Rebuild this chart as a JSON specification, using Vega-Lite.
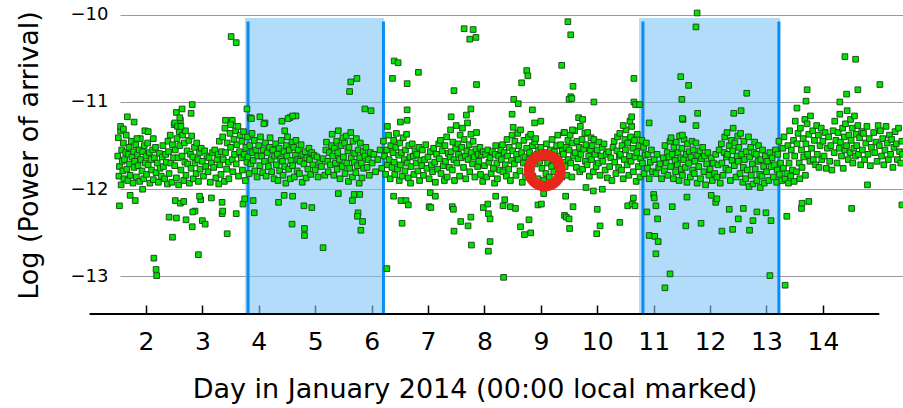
{
"$schema":"https://vega.github.io/schema/vega-lite/v6.json",
"width":783,"height":308,
"autosize":{"type":"none"},
"padding":{"left":120,"top":6,"right":0,"bottom":94},
"config":{"view":{"stroke":null},"font":"DejaVu Sans"},
"datasets":{
"bands":[{"a":3.755,"b":6.22},{"a":10.74,"b":13.24}],
"edges":[{"e":3.81},{"e":6.21},{"e":10.81},{"e":13.22}],
"axisline":[{"a":1.0,"b":15.0}],
"ring":[{"d":9.07,"p":-11.785}],
"pts":[
{"d":1.50,"p":-11.62},{"d":1.51,"p":-11.41},{"d":1.52,"p":-11.85},{"d":1.53,"p":-11.74},{"d":1.55,"p":-11.33},{"d":1.56,"p":-11.95},{"d":1.57,"p":-11.55},{"d":1.58,"p":-11.68},{"d":1.59,"p":-11.79},
{"d":1.60,"p":-11.47},{"d":1.61,"p":-11.88},{"d":1.62,"p":-11.66},{"d":1.64,"p":-11.58},{"d":1.65,"p":-11.38},{"d":1.66,"p":-11.77},{"d":1.68,"p":-11.9},{"d":1.69,"p":-11.6},
{"d":1.70,"p":-11.52},{"d":1.71,"p":-11.71},{"d":1.72,"p":-11.84},{"d":1.74,"p":-11.45},{"d":1.75,"p":-11.63},{"d":1.77,"p":-11.93},{"d":1.78,"p":-11.57},{"d":1.79,"p":-11.75},
{"d":1.80,"p":-11.68},{"d":1.82,"p":-11.49},{"d":1.83,"p":-11.86},{"d":1.85,"p":-11.6},{"d":1.86,"p":-11.73},{"d":1.88,"p":-11.55},{"d":1.89,"p":-11.91},
{"d":1.90,"p":-11.42},{"d":1.91,"p":-11.66},{"d":1.93,"p":-11.79},{"d":1.94,"p":-11.57},{"d":1.96,"p":-11.88},{"d":1.97,"p":-11.5},{"d":1.99,"p":-11.7},
{"d":2.00,"p":-11.62},{"d":2.01,"p":-11.83},{"d":2.03,"p":-11.47},{"d":2.04,"p":-11.72},{"d":2.06,"p":-11.58},{"d":2.07,"p":-11.93},{"d":2.09,"p":-11.66},
{"d":2.10,"p":-11.78},{"d":2.12,"p":-11.55},{"d":2.13,"p":-11.89},{"d":2.15,"p":-11.64},{"d":2.17,"p":-11.52},{"d":2.18,"p":-11.81},
{"d":2.20,"p":-11.7},{"d":2.22,"p":-11.92},{"d":2.24,"p":-11.59},{"d":2.25,"p":-11.76},{"d":2.27,"p":-11.85},{"d":2.29,"p":-11.63},
{"d":2.30,"p":-11.5},{"d":2.31,"p":-11.74},{"d":2.33,"p":-11.88},{"d":2.35,"p":-11.6},{"d":2.36,"p":-11.69},{"d":2.38,"p":-11.94},{"d":2.39,"p":-11.45},
{"d":2.40,"p":-11.57},{"d":2.41,"p":-11.82},{"d":2.43,"p":-11.38},{"d":2.44,"p":-11.7},{"d":2.46,"p":-11.92},{"d":2.47,"p":-11.49},{"d":2.49,"p":-11.64},
{"d":2.50,"p":-11.26},{"d":2.51,"p":-11.73},{"d":2.52,"p":-11.55},{"d":2.54,"p":-11.87},{"d":2.55,"p":-11.42},{"d":2.57,"p":-11.64},{"d":2.58,"p":-11.95},{"d":2.59,"p":-11.34},
{"d":2.60,"p":-11.5},{"d":2.61,"p":-11.21},{"d":2.62,"p":-11.78},{"d":2.64,"p":-11.62},{"d":2.65,"p":-11.38},{"d":2.67,"p":-11.9},{"d":2.68,"p":-11.47},{"d":2.69,"p":-11.69},
{"d":2.70,"p":-11.33},{"d":2.71,"p":-11.84},{"d":2.73,"p":-11.56},{"d":2.74,"p":-11.71},{"d":2.76,"p":-11.44},{"d":2.77,"p":-11.93},{"d":2.79,"p":-11.6},
{"d":2.80,"p":-11.76},{"d":2.81,"p":-11.39},{"d":2.83,"p":-11.63},{"d":2.84,"p":-11.88},{"d":2.86,"p":-11.52},{"d":2.87,"p":-11.7},{"d":2.89,"p":-11.82},
{"d":2.90,"p":-11.47},{"d":2.92,"p":-11.66},{"d":2.93,"p":-11.91},{"d":2.95,"p":-11.58},{"d":2.96,"p":-11.77},{"d":2.98,"p":-11.53},
{"d":3.00,"p":-11.68},{"d":3.02,"p":-11.85},{"d":3.04,"p":-11.56},{"d":3.06,"p":-11.74},{"d":3.08,"p":-11.62},
{"d":3.10,"p":-11.8},{"d":3.12,"p":-11.64},{"d":3.14,"p":-11.92},{"d":3.16,"p":-11.7},{"d":3.18,"p":-11.58},
{"d":3.20,"p":-11.75},{"d":3.22,"p":-11.55},{"d":3.24,"p":-11.87},{"d":3.26,"p":-11.66},{"d":3.28,"p":-11.6},{"d":3.29,"p":-11.94},
{"d":3.30,"p":-11.45},{"d":3.31,"p":-11.72},{"d":3.33,"p":-11.83},{"d":3.34,"p":-11.57},{"d":3.36,"p":-11.4},{"d":3.37,"p":-11.66},{"d":3.39,"p":-11.91},
{"d":3.40,"p":-11.3},{"d":3.41,"p":-11.58},{"d":3.43,"p":-11.77},{"d":3.44,"p":-11.47},{"d":3.46,"p":-11.69},{"d":3.47,"p":-11.88},{"d":3.49,"p":-11.36},
{"d":3.50,"p":-11.52},{"d":3.51,"p":-11.24},{"d":3.53,"p":-11.66},{"d":3.54,"p":-11.8},{"d":3.56,"p":-11.43},{"d":3.57,"p":-11.6},{"d":3.59,"p":-11.33},
{"d":3.60,"p":-11.71},{"d":3.61,"p":-11.49},{"d":3.63,"p":-11.28},{"d":3.64,"p":-11.85},{"d":3.66,"p":-11.57},{"d":3.67,"p":-11.38},{"d":3.69,"p":-11.64},
{"d":3.70,"p":-11.45},{"d":3.71,"p":-11.78},{"d":3.73,"p":-11.34},{"d":3.74,"p":-11.6},{"d":3.76,"p":-11.9},{"d":3.77,"p":-11.52},{"d":3.79,"p":-11.69},
{"d":3.80,"p":-11.4},{"d":3.81,"p":-11.63},{"d":3.83,"p":-11.82},{"d":3.84,"p":-11.5},{"d":3.86,"p":-11.71},{"d":3.88,"p":-11.36},{"d":3.89,"p":-11.58},
{"d":3.90,"p":-11.67},{"d":3.92,"p":-11.44},{"d":3.93,"p":-11.79},{"d":3.95,"p":-11.55},{"d":3.97,"p":-11.86},{"d":3.98,"p":-11.62},
{"d":4.00,"p":-11.5},{"d":4.02,"p":-11.73},{"d":4.03,"p":-11.4},{"d":4.05,"p":-11.62},{"d":4.07,"p":-11.81},{"d":4.08,"p":-11.55},
{"d":4.10,"p":-11.68},{"d":4.12,"p":-11.47},{"d":4.13,"p":-11.85},{"d":4.15,"p":-11.58},{"d":4.17,"p":-11.74},{"d":4.19,"p":-11.52},
{"d":4.20,"p":-11.41},{"d":4.22,"p":-11.66},{"d":4.23,"p":-11.8},{"d":4.25,"p":-11.55},{"d":4.27,"p":-11.88},{"d":4.28,"p":-11.62},
{"d":4.30,"p":-11.48},{"d":4.31,"p":-11.72},{"d":4.33,"p":-11.6},{"d":4.34,"p":-11.9},{"d":4.36,"p":-11.53},{"d":4.37,"p":-11.79},{"d":4.39,"p":-11.65},
{"d":4.40,"p":-11.44},{"d":4.42,"p":-11.68},{"d":4.43,"p":-11.84},{"d":4.45,"p":-11.57},{"d":4.46,"p":-11.74},{"d":4.48,"p":-11.93},{"d":4.49,"p":-11.5},
{"d":4.50,"p":-11.62},{"d":4.51,"p":-11.4},{"d":4.53,"p":-11.77},{"d":4.54,"p":-11.55},{"d":4.56,"p":-11.88},{"d":4.57,"p":-11.67},{"d":4.59,"p":-11.46},
{"d":4.60,"p":-11.73},{"d":4.62,"p":-11.52},{"d":4.63,"p":-11.86},{"d":4.65,"p":-11.61},{"d":4.66,"p":-11.44},{"d":4.68,"p":-11.79},{"d":4.69,"p":-11.66},
{"d":4.70,"p":-11.55},{"d":4.72,"p":-11.82},{"d":4.73,"p":-11.68},{"d":4.75,"p":-11.49},{"d":4.77,"p":-11.92},{"d":4.78,"p":-11.6},
{"d":4.80,"p":-11.71},{"d":4.82,"p":-11.57},{"d":4.84,"p":-11.87},{"d":4.85,"p":-11.64},{"d":4.87,"p":-11.77},{"d":4.89,"p":-11.53},
{"d":4.90,"p":-11.66},{"d":4.92,"p":-11.83},{"d":4.94,"p":-11.58},{"d":4.96,"p":-11.72},{"d":4.98,"p":-11.61},
{"d":5.00,"p":-11.78},{"d":5.03,"p":-11.63},{"d":5.05,"p":-11.86},{"d":5.08,"p":-11.7},
{"d":5.11,"p":-11.74},{"d":5.14,"p":-11.65},{"d":5.17,"p":-11.84},{"d":5.19,"p":-11.55},
{"d":5.20,"p":-11.46},{"d":5.22,"p":-11.68},{"d":5.23,"p":-11.8},{"d":5.25,"p":-11.58},{"d":5.27,"p":-11.72},{"d":5.29,"p":-11.5},
{"d":5.30,"p":-11.37},{"d":5.31,"p":-11.62},{"d":5.33,"p":-11.84},{"d":5.34,"p":-11.53},{"d":5.36,"p":-11.7},{"d":5.38,"p":-11.45},{"d":5.39,"p":-11.77},
{"d":5.40,"p":-11.58},{"d":5.41,"p":-11.33},{"d":5.43,"p":-11.66},{"d":5.44,"p":-11.88},{"d":5.46,"p":-11.5},{"d":5.48,"p":-11.74},{"d":5.49,"p":-11.41},
{"d":5.50,"p":-11.63},{"d":5.52,"p":-11.47},{"d":5.53,"p":-11.82},{"d":5.55,"p":-11.39},{"d":5.56,"p":-11.7},{"d":5.58,"p":-11.56},{"d":5.59,"p":-11.91},
{"d":5.60,"p":-11.52},{"d":5.61,"p":-11.76},{"d":5.63,"p":-11.35},{"d":5.64,"p":-11.64},{"d":5.66,"p":-11.86},{"d":5.67,"p":-11.45},{"d":5.69,"p":-11.69},
{"d":5.70,"p":-11.59},{"d":5.72,"p":-11.81},{"d":5.73,"p":-11.42},{"d":5.75,"p":-11.73},{"d":5.76,"p":-11.55},{"d":5.78,"p":-11.93},{"d":5.79,"p":-11.64},
{"d":5.80,"p":-11.47},{"d":5.82,"p":-11.7},{"d":5.83,"p":-11.87},{"d":5.85,"p":-11.57},{"d":5.86,"p":-11.76},{"d":5.88,"p":-11.62},
{"d":5.90,"p":-11.52},{"d":5.92,"p":-11.75},{"d":5.94,"p":-11.66},{"d":5.96,"p":-11.84},{"d":5.98,"p":-11.58},
{"d":6.01,"p":-11.7},{"d":6.04,"p":-11.6},{"d":6.07,"p":-11.8},{"d":6.11,"p":-11.66},{"d":6.15,"p":-11.55},{"d":6.18,"p":-11.76},
{"d":6.21,"p":-11.45},{"d":6.23,"p":-11.62},{"d":6.25,"p":-11.83},{"d":6.27,"p":-11.55},{"d":6.28,"p":-11.72},
{"d":6.30,"p":-11.38},{"d":6.31,"p":-11.66},{"d":6.33,"p":-11.88},{"d":6.34,"p":-11.5},{"d":6.36,"p":-11.75},{"d":6.38,"p":-11.58},{"d":6.39,"p":-11.44},
{"d":6.40,"p":-11.69},{"d":6.41,"p":-11.83},{"d":6.43,"p":-11.52},{"d":6.44,"p":-11.36},{"d":6.46,"p":-11.77},{"d":6.48,"p":-11.61},{"d":6.49,"p":-11.9},
{"d":6.50,"p":-11.47},{"d":6.51,"p":-11.72},{"d":6.53,"p":-11.58},{"d":6.54,"p":-11.85},{"d":6.56,"p":-11.41},{"d":6.58,"p":-11.66},{"d":6.59,"p":-11.79},
{"d":6.60,"p":-11.55},{"d":6.62,"p":-11.37},{"d":6.63,"p":-11.7},{"d":6.65,"p":-11.87},{"d":6.66,"p":-11.5},{"d":6.68,"p":-11.63},{"d":6.69,"p":-11.93},
{"d":6.70,"p":-11.74},{"d":6.72,"p":-11.48},{"d":6.74,"p":-11.62},{"d":6.75,"p":-11.83},{"d":6.77,"p":-11.56},{"d":6.79,"p":-11.7},
{"d":6.80,"p":-11.6},{"d":6.82,"p":-11.79},{"d":6.84,"p":-11.52},{"d":6.85,"p":-11.9},{"d":6.87,"p":-11.67},{"d":6.89,"p":-11.73},
{"d":6.90,"p":-11.55},{"d":6.92,"p":-11.84},{"d":6.94,"p":-11.66},{"d":6.96,"p":-11.49},{"d":6.98,"p":-11.76},
{"d":7.00,"p":-11.63},{"d":7.02,"p":-11.88},{"d":7.04,"p":-11.57},{"d":7.06,"p":-11.72},{"d":7.08,"p":-11.8},
{"d":7.10,"p":-11.53},{"d":7.12,"p":-11.69},{"d":7.13,"p":-11.92},{"d":7.15,"p":-11.6},{"d":7.17,"p":-11.77},{"d":7.19,"p":-11.48},
{"d":7.20,"p":-11.65},{"d":7.22,"p":-11.44},{"d":7.23,"p":-11.82},{"d":7.25,"p":-11.56},{"d":7.27,"p":-11.73},{"d":7.29,"p":-11.9},
{"d":7.30,"p":-11.5},{"d":7.31,"p":-11.68},{"d":7.33,"p":-11.4},{"d":7.34,"p":-11.86},{"d":7.36,"p":-11.59},{"d":7.38,"p":-11.75},{"d":7.39,"p":-11.63},
{"d":7.40,"p":-11.32},{"d":7.41,"p":-11.57},{"d":7.43,"p":-11.78},{"d":7.44,"p":-11.46},{"d":7.46,"p":-11.66},{"d":7.47,"p":-11.9},{"d":7.49,"p":-11.53},
{"d":7.50,"p":-11.27},{"d":7.51,"p":-11.7},{"d":7.53,"p":-11.48},{"d":7.54,"p":-11.6},{"d":7.56,"p":-11.85},{"d":7.57,"p":-11.38},{"d":7.59,"p":-11.64},
{"d":7.60,"p":-11.52},{"d":7.61,"p":-11.3},{"d":7.63,"p":-11.75},{"d":7.64,"p":-11.43},{"d":7.66,"p":-11.62},{"d":7.67,"p":-11.88},{"d":7.69,"p":-11.56},
{"d":7.70,"p":-11.24},{"d":7.71,"p":-11.66},{"d":7.73,"p":-11.49},{"d":7.74,"p":-11.8},{"d":7.76,"p":-11.37},{"d":7.77,"p":-11.58},{"d":7.79,"p":-11.71},
{"d":7.80,"p":-11.45},{"d":7.82,"p":-11.63},{"d":7.83,"p":-11.86},{"d":7.85,"p":-11.54},{"d":7.86,"p":-11.35},{"d":7.88,"p":-11.74},{"d":7.89,"p":-11.6},
{"d":7.90,"p":-11.68},{"d":7.92,"p":-11.52},{"d":7.93,"p":-11.83},{"d":7.95,"p":-11.61},{"d":7.97,"p":-11.91},{"d":7.98,"p":-11.57},
{"d":8.00,"p":-11.73},{"d":8.02,"p":-11.6},{"d":8.04,"p":-11.86},{"d":8.06,"p":-11.55},{"d":8.08,"p":-11.69},
{"d":8.10,"p":-11.64},{"d":8.12,"p":-11.82},{"d":8.14,"p":-11.57},{"d":8.16,"p":-11.76},{"d":8.18,"p":-11.93},{"d":8.19,"p":-11.6},
{"d":8.20,"p":-11.5},{"d":8.22,"p":-11.7},{"d":8.23,"p":-11.88},{"d":8.25,"p":-11.62},{"d":8.27,"p":-11.78},{"d":8.29,"p":-11.55},
{"d":8.30,"p":-11.66},{"d":8.32,"p":-11.49},{"d":8.33,"p":-11.8},{"d":8.35,"p":-11.58},{"d":8.37,"p":-11.72},{"d":8.39,"p":-11.85},
{"d":8.40,"p":-11.43},{"d":8.41,"p":-11.62},{"d":8.43,"p":-11.77},{"d":8.44,"p":-11.52},{"d":8.46,"p":-11.9},{"d":8.48,"p":-11.67},{"d":8.49,"p":-11.38},
{"d":8.50,"p":-11.56},{"d":8.51,"p":-11.29},{"d":8.53,"p":-11.71},{"d":8.54,"p":-11.45},{"d":8.56,"p":-11.84},{"d":8.57,"p":-11.6},{"d":8.59,"p":-11.36},
{"d":8.60,"p":-11.66},{"d":8.61,"p":-11.5},{"d":8.63,"p":-11.79},{"d":8.64,"p":-11.32},{"d":8.66,"p":-11.58},{"d":8.67,"p":-11.92},{"d":8.69,"p":-11.7},
{"d":8.70,"p":-11.44},{"d":8.72,"p":-11.63},{"d":8.73,"p":-11.86},{"d":8.75,"p":-11.53},{"d":8.76,"p":-11.74},{"d":8.78,"p":-11.4},{"d":8.79,"p":-11.66},
{"d":8.80,"p":-11.58},{"d":8.82,"p":-11.37},{"d":8.83,"p":-11.77},{"d":8.85,"p":-11.5},{"d":8.86,"p":-11.85},{"d":8.88,"p":-11.62},{"d":8.89,"p":-11.46},
{"d":8.90,"p":-11.71},{"d":8.91,"p":-11.42},{"d":8.93,"p":-11.6},{"d":8.95,"p":-11.88},{"d":8.96,"p":-11.55},{"d":8.98,"p":-11.68},
{"d":9.00,"p":-11.52},{"d":9.02,"p":-11.76},{"d":9.04,"p":-11.64},{"d":9.05,"p":-11.9},{"d":9.07,"p":-11.58},{"d":9.09,"p":-11.82},
{"d":9.10,"p":-11.48},{"d":9.12,"p":-11.7},{"d":9.13,"p":-11.61},{"d":9.15,"p":-11.86},{"d":9.17,"p":-11.55},{"d":9.19,"p":-11.74},
{"d":9.20,"p":-11.43},{"d":9.21,"p":-11.66},{"d":9.23,"p":-11.8},{"d":9.24,"p":-11.57},{"d":9.26,"p":-11.92},{"d":9.28,"p":-11.5},{"d":9.29,"p":-11.71},
{"d":9.30,"p":-11.38},{"d":9.32,"p":-11.62},{"d":9.33,"p":-11.78},{"d":9.35,"p":-11.49},{"d":9.37,"p":-11.86},{"d":9.38,"p":-11.56},{"d":9.39,"p":-11.69},
{"d":9.40,"p":-11.6},{"d":9.41,"p":-11.35},{"d":9.43,"p":-11.74},{"d":9.45,"p":-11.52},{"d":9.46,"p":-11.84},{"d":9.48,"p":-11.44},{"d":9.49,"p":-11.66},
{"d":9.50,"p":-11.55},{"d":9.52,"p":-11.38},{"d":9.53,"p":-11.7},{"d":9.55,"p":-11.86},{"d":9.56,"p":-11.47},{"d":9.58,"p":-11.62},
{"d":9.60,"p":-11.33},{"d":9.61,"p":-11.58},{"d":9.63,"p":-11.75},{"d":9.64,"p":-11.45},{"d":9.66,"p":-11.65},{"d":9.68,"p":-11.52},{"d":9.69,"p":-11.8},
{"d":9.70,"p":-11.28},{"d":9.71,"p":-11.6},{"d":9.73,"p":-11.43},{"d":9.74,"p":-11.77},{"d":9.76,"p":-11.54},{"d":9.78,"p":-11.36},{"d":9.79,"p":-11.68},
{"d":9.80,"p":-11.49},{"d":9.82,"p":-11.72},{"d":9.83,"p":-11.35},{"d":9.85,"p":-11.62},{"d":9.86,"p":-11.85},{"d":9.88,"p":-11.55},{"d":9.89,"p":-11.41},
{"d":9.90,"p":-11.66},{"d":9.91,"p":-11.5},{"d":9.93,"p":-11.8},{"d":9.94,"p":-11.43},{"d":9.96,"p":-11.6},{"d":9.98,"p":-11.74},
{"d":10.00,"p":-11.55},{"d":10.02,"p":-11.7},{"d":10.03,"p":-11.46},{"d":10.05,"p":-11.84},{"d":10.07,"p":-11.62},{"d":10.09,"p":-11.52},
{"d":10.10,"p":-11.68},{"d":10.12,"p":-11.48},{"d":10.14,"p":-11.78},{"d":10.16,"p":-11.6},{"d":10.18,"p":-11.87},
{"d":10.20,"p":-11.57},{"d":10.22,"p":-11.74},{"d":10.24,"p":-11.64},{"d":10.26,"p":-11.9},{"d":10.28,"p":-11.52},
{"d":10.30,"p":-11.45},{"d":10.31,"p":-11.69},{"d":10.33,"p":-11.82},{"d":10.35,"p":-11.56},{"d":10.36,"p":-11.4},{"d":10.38,"p":-11.75},{"d":10.39,"p":-11.62},
{"d":10.40,"p":-11.36},{"d":10.41,"p":-11.6},{"d":10.43,"p":-11.78},{"d":10.44,"p":-11.5},{"d":10.46,"p":-11.88},{"d":10.48,"p":-11.66},{"d":10.49,"p":-11.43},
{"d":10.50,"p":-11.55},{"d":10.51,"p":-11.32},{"d":10.53,"p":-11.72},{"d":10.54,"p":-11.47},{"d":10.56,"p":-11.84},{"d":10.57,"p":-11.62},{"d":10.59,"p":-11.4},
{"d":10.60,"p":-11.68},{"d":10.61,"p":-11.28},{"d":10.63,"p":-11.53},{"d":10.64,"p":-11.8},{"d":10.66,"p":-11.44},{"d":10.67,"p":-11.63},{"d":10.69,"p":-11.91},
{"d":10.70,"p":-11.58},{"d":10.71,"p":-11.37},{"d":10.73,"p":-11.74},{"d":10.74,"p":-11.5},{"d":10.76,"p":-11.86},{"d":10.77,"p":-11.65},{"d":10.79,"p":-11.44},
{"d":10.80,"p":-11.7},{"d":10.82,"p":-11.52},{"d":10.83,"p":-11.82},{"d":10.85,"p":-11.61},{"d":10.87,"p":-11.47},{"d":10.89,"p":-11.76},
{"d":10.90,"p":-11.6},{"d":10.92,"p":-11.88},{"d":10.94,"p":-11.69},{"d":10.96,"p":-11.55},{"d":10.98,"p":-11.8},
{"d":11.01,"p":-11.66},{"d":11.04,"p":-11.82},{"d":11.06,"p":-11.6},{"d":11.09,"p":-11.75},
{"d":11.11,"p":-11.71},{"d":11.14,"p":-11.88},{"d":11.17,"p":-11.64},{"d":11.19,"p":-11.79},
{"d":11.20,"p":-11.5},{"d":11.22,"p":-11.7},{"d":11.24,"p":-11.58},{"d":11.25,"p":-11.84},{"d":11.27,"p":-11.63},{"d":11.29,"p":-11.45},
{"d":11.30,"p":-11.74},{"d":11.31,"p":-11.41},{"d":11.33,"p":-11.6},{"d":11.35,"p":-11.88},{"d":11.36,"p":-11.52},{"d":11.38,"p":-11.67},{"d":11.39,"p":-11.8},
{"d":11.40,"p":-11.46},{"d":11.42,"p":-11.72},{"d":11.43,"p":-11.58},{"d":11.45,"p":-11.9},{"d":11.46,"p":-11.39},{"d":11.48,"p":-11.64},{"d":11.49,"p":-11.77},
{"d":11.50,"p":-11.53},{"d":11.51,"p":-11.84},{"d":11.53,"p":-11.66},{"d":11.54,"p":-11.43},{"d":11.56,"p":-11.75},{"d":11.58,"p":-11.6},{"d":11.59,"p":-11.92},
{"d":11.60,"p":-11.48},{"d":11.62,"p":-11.7},{"d":11.63,"p":-11.57},{"d":11.65,"p":-11.86},{"d":11.66,"p":-11.63},{"d":11.68,"p":-11.45},{"d":11.69,"p":-11.78},
{"d":11.70,"p":-11.55},{"d":11.72,"p":-11.82},{"d":11.73,"p":-11.68},{"d":11.75,"p":-11.47},{"d":11.77,"p":-11.93},{"d":11.78,"p":-11.61},
{"d":11.80,"p":-11.74},{"d":11.82,"p":-11.56},{"d":11.83,"p":-11.88},{"d":11.85,"p":-11.65},{"d":11.87,"p":-11.52},{"d":11.89,"p":-11.8},
{"d":11.90,"p":-11.62},{"d":11.92,"p":-11.95},{"d":11.94,"p":-11.71},{"d":11.96,"p":-11.58},{"d":11.98,"p":-11.84},
{"d":12.00,"p":-11.77},{"d":12.02,"p":-11.64},{"d":12.04,"p":-11.9},{"d":12.06,"p":-11.7},{"d":12.08,"p":-11.82},
{"d":12.10,"p":-11.6},{"d":12.12,"p":-11.86},{"d":12.14,"p":-11.72},{"d":12.16,"p":-11.55},{"d":12.18,"p":-11.93},
{"d":12.20,"p":-11.48},{"d":12.21,"p":-11.7},{"d":12.23,"p":-11.84},{"d":12.25,"p":-11.58},{"d":12.26,"p":-11.4},{"d":12.28,"p":-11.76},{"d":12.29,"p":-11.63},
{"d":12.30,"p":-11.35},{"d":12.31,"p":-11.6},{"d":12.33,"p":-11.78},{"d":12.34,"p":-11.5},{"d":12.36,"p":-11.9},{"d":12.38,"p":-11.44},{"d":12.39,"p":-11.67},
{"d":12.40,"p":-11.56},{"d":12.41,"p":-11.3},{"d":12.43,"p":-11.73},{"d":12.44,"p":-11.47},{"d":12.46,"p":-11.86},{"d":12.48,"p":-11.62},{"d":12.49,"p":-11.39},
{"d":12.50,"p":-11.68},{"d":12.51,"p":-11.52},{"d":12.53,"p":-11.82},{"d":12.54,"p":-11.36},{"d":12.56,"p":-11.6},{"d":12.58,"p":-11.92},{"d":12.59,"p":-11.75},
{"d":12.60,"p":-11.45},{"d":12.61,"p":-11.66},{"d":12.63,"p":-11.88},{"d":12.64,"p":-11.57},{"d":12.66,"p":-11.78},{"d":12.68,"p":-11.4},{"d":12.69,"p":-11.97},
{"d":12.70,"p":-11.63},{"d":12.72,"p":-11.52},{"d":12.73,"p":-11.84},{"d":12.75,"p":-11.71},{"d":12.76,"p":-11.94},{"d":12.78,"p":-11.58},{"d":12.79,"p":-11.46},
{"d":12.80,"p":-11.77},{"d":12.82,"p":-11.6},{"d":12.83,"p":-11.9},{"d":12.85,"p":-11.68},{"d":12.86,"p":-11.5},{"d":12.88,"p":-11.83},{"d":12.89,"p":-11.98},
{"d":12.90,"p":-11.66},{"d":12.92,"p":-11.85},{"d":12.93,"p":-11.55},{"d":12.95,"p":-11.74},{"d":12.96,"p":-11.93},{"d":12.98,"p":-11.62},
{"d":13.00,"p":-11.8},{"d":13.02,"p":-11.68},{"d":13.04,"p":-11.9},{"d":13.06,"p":-11.58},{"d":13.08,"p":-11.74},
{"d":13.10,"p":-11.64},{"d":13.12,"p":-11.86},{"d":13.14,"p":-11.72},{"d":13.16,"p":-11.55},{"d":13.18,"p":-11.92},{"d":13.19,"p":-11.78},
{"d":13.20,"p":-11.6},{"d":13.22,"p":-11.45},{"d":13.23,"p":-11.83},{"d":13.25,"p":-11.7},{"d":13.27,"p":-11.9},{"d":13.29,"p":-11.53},
{"d":13.30,"p":-11.76},{"d":13.31,"p":-11.4},{"d":13.33,"p":-11.88},{"d":13.35,"p":-11.62},{"d":13.36,"p":-11.82},{"d":13.38,"p":-11.5},{"d":13.39,"p":-11.93},
{"d":13.40,"p":-11.7},{"d":13.41,"p":-11.33},{"d":13.43,"p":-11.85},{"d":13.44,"p":-11.55},{"d":13.46,"p":-11.78},{"d":13.48,"p":-11.44},{"d":13.49,"p":-11.91},
{"d":13.50,"p":-11.62},{"d":13.51,"p":-11.22},{"d":13.53,"p":-11.8},{"d":13.54,"p":-11.48},{"d":13.56,"p":-11.36},{"d":13.58,"p":-11.7},{"d":13.59,"p":-11.88},
{"d":13.60,"p":-11.3},{"d":13.62,"p":-11.55},{"d":13.63,"p":-11.75},{"d":13.65,"p":-11.42},{"d":13.66,"p":-11.63},{"d":13.68,"p":-11.2},{"d":13.69,"p":-11.84},
{"d":13.70,"p":-11.48},{"d":13.72,"p":-11.25},{"d":13.73,"p":-11.6},{"d":13.75,"p":-11.37},{"d":13.77,"p":-11.68},{"d":13.78,"p":-11.16},
{"d":13.80,"p":-11.53},{"d":13.82,"p":-11.33},{"d":13.83,"p":-11.66},{"d":13.85,"p":-11.44},{"d":13.87,"p":-11.72},{"d":13.89,"p":-11.27},
{"d":13.90,"p":-11.6},{"d":13.92,"p":-11.38},{"d":13.93,"p":-11.75},{"d":13.95,"p":-11.5},{"d":13.97,"p":-11.3},{"d":13.98,"p":-11.66},
{"d":14.00,"p":-11.45},{"d":14.02,"p":-11.62},{"d":14.04,"p":-11.35},{"d":14.06,"p":-11.76},{"d":14.08,"p":-11.53},
{"d":14.10,"p":-11.4},{"d":14.12,"p":-11.68},{"d":14.14,"p":-11.5},{"d":14.16,"p":-11.78},{"d":14.18,"p":-11.33},
{"d":14.20,"p":-11.58},{"d":14.21,"p":-11.22},{"d":14.23,"p":-11.44},{"d":14.25,"p":-11.7},{"d":14.27,"p":-11.35},{"d":14.29,"p":-11.53},
{"d":14.30,"p":-11.14},{"d":14.31,"p":-11.46},{"d":14.33,"p":-11.62},{"d":14.35,"p":-11.3},{"d":14.36,"p":-11.76},{"d":14.38,"p":-11.4},{"d":14.39,"p":-11.55},
{"d":14.40,"p":-11.25},{"d":14.42,"p":-11.5},{"d":14.43,"p":-11.1},{"d":14.45,"p":-11.66},{"d":14.46,"p":-11.38},{"d":14.48,"p":-11.58},{"d":14.49,"p":-11.2},
{"d":14.50,"p":-11.44},{"d":14.52,"p":-11.3},{"d":14.53,"p":-11.7},{"d":14.55,"p":-11.53},{"d":14.56,"p":-11.16},{"d":14.58,"p":-11.62},{"d":14.59,"p":-11.37},
{"d":14.60,"p":-11.5},{"d":14.62,"p":-11.27},{"d":14.63,"p":-11.6},{"d":14.65,"p":-11.41},{"d":14.67,"p":-11.72},{"d":14.69,"p":-11.34},
{"d":14.70,"p":-11.55},{"d":14.72,"p":-11.36},{"d":14.74,"p":-11.66},{"d":14.76,"p":-11.47},{"d":14.78,"p":-11.28},
{"d":14.80,"p":-11.6},{"d":14.82,"p":-11.42},{"d":14.84,"p":-11.73},{"d":14.86,"p":-11.52},
{"d":14.90,"p":-11.35},{"d":14.92,"p":-11.58},{"d":14.94,"p":-11.46},{"d":14.96,"p":-11.68},{"d":14.98,"p":-11.27},
{"d":15.00,"p":-11.5},{"d":15.02,"p":-11.33},{"d":15.04,"p":-11.62},{"d":15.06,"p":-11.42},{"d":15.08,"p":-11.72},
{"d":15.10,"p":-11.55},{"d":15.12,"p":-11.28},{"d":15.14,"p":-11.47},{"d":15.16,"p":-11.66},{"d":15.18,"p":-11.38},
{"d":15.20,"p":-11.6},{"d":15.22,"p":-11.43},{"d":15.24,"p":-11.75},{"d":15.26,"p":-11.52},{"d":15.28,"p":-11.34},
{"d":15.30,"p":-11.48},{"d":15.32,"p":-11.66},{"d":15.34,"p":-11.3},{"d":15.36,"p":-11.57},{"d":15.38,"p":-11.7},
{"d":15.40,"p":-11.45},{"d":15.41,"p":-11.6},
{"d":1.67,"p":-11.17},{"d":1.79,"p":-11.23},{"d":2.82,"p":-11.03},{"d":2.54,"p":-11.12},{"d":2.64,"p":-11.08},{"d":2.8,"p":-11.13},{"d":3.79,"p":-11.08},{"d":3.85,"p":-11.18},{"d":4.02,"p":-11.17},{"d":4.11,"p":-11.24},{"d":3.41,"p":-11.21},{"d":3.53,"p":-11.21},{"d":3.5,"p":-11.26},{"d":2.6,"p":-11.18},{"d":2.51,"p":-11.24},{"d":2.56,"p":-11.28},{"d":2.62,"p":-11.28},{"d":1.55,"p":-11.28},{"d":1.6,"p":-11.31},{"d":1.98,"p":-11.33},{"d":2.04,"p":-11.34},{"d":2.13,"p":-11.42},{"d":1.84,"p":-11.42},
{"d":3.51,"p":-10.25},{"d":3.6,"p":-10.32},
{"d":4.41,"p":-11.22},{"d":4.55,"p":-11.18},{"d":4.66,"p":-11.16},{"d":3.87,"p":-11.19},{"d":4.09,"p":-11.25},{"d":4.52,"p":-11.19},{"d":4.6,"p":-11.16},{"d":4.46,"p":-11.33},
{"d":5.63,"p":-10.77},{"d":5.74,"p":-10.73},{"d":5.61,"p":-10.88},{"d":5.88,"p":-11.08},{"d":5.99,"p":-11.1},
{"d":6.40,"p":-10.53},{"d":6.47,"p":-10.55},{"d":6.37,"p":-10.73},{"d":6.63,"p":-10.79},{"d":6.83,"p":-10.66},{"d":6.63,"p":-11.09},{"d":6.51,"p":-11.23},{"d":6.28,"p":-11.28},{"d":6.63,"p":-11.21},
{"d":7.46,"p":-10.87},{"d":7.86,"p":-10.8},{"d":7.64,"p":-10.16},{"d":7.8,"p":-10.17},{"d":7.74,"p":-10.28},{"d":7.85,"p":-10.26},
{"d":9.48,"p":-10.08},{"d":9.53,"p":-10.23},{"d":9.37,"p":-10.58},{"d":8.75,"p":-10.64},{"d":8.77,"p":-10.7},{"d":8.66,"p":-10.78},{"d":9.57,"p":-10.82},{"d":9.53,"p":-10.94},{"d":9.5,"p":-10.97},{"d":9.55,"p":-10.96},{"d":8.52,"p":-10.97},{"d":8.6,"p":-11.02},{"d":9.94,"p":-11.0},
{"d":7.76,"p":-11.08},{"d":7.68,"p":-11.15},{"d":7.41,"p":-11.17},{"d":8.49,"p":-11.14},{"d":8.85,"p":-11.09},{"d":8.89,"p":-11.24},{"d":9.0,"p":-11.22},{"d":9.67,"p":-11.18},{"d":9.74,"p":-11.2},{"d":9.42,"p":-11.35},{"d":9.56,"p":-11.32},
{"d":11.77,"p":-9.98},{"d":11.75,"p":-10.14},{"d":11.48,"p":-10.71},{"d":11.62,"p":-10.81},{"d":11.5,"p":-10.97},{"d":10.65,"p":-10.73},{"d":10.65,"p":-11.0},{"d":10.68,"p":-11.03},{"d":10.75,"p":-11.03},{"d":12.65,"p":-10.9},{"d":14.39,"p":-10.48},{"d":14.58,"p":-10.51},{"d":13.72,"p":-10.86},{"d":14.42,"p":-10.91},{"d":14.62,"p":-10.86},{"d":15.01,"p":-10.8},{"d":14.3,"p":-11.0},{"d":11.52,"p":-11.2},{"d":11.78,"p":-11.13},{"d":11.75,"p":-11.27},{"d":12.42,"p":-11.13},{"d":12.55,"p":-11.1},{"d":10.92,"p":-11.24},{"d":10.58,"p":-11.22},{"d":10.61,"p":-11.17},{"d":10.46,"p":-11.27},{"d":11.51,"p":-11.19},{"d":11.51,"p":-11.38},{"d":13.54,"p":-11.07},{"d":13.7,"p":-10.99},
{"d":1.53,"p":-12.19},{"d":1.81,"p":-12.13},{"d":2.14,"p":-12.79},{"d":2.18,"p":-12.92},{"d":2.19,"p":-12.99},{"d":2.47,"p":-12.55},{"d":2.41,"p":-12.32},{"d":2.54,"p":-12.33},{"d":2.71,"p":-12.35},{"d":2.82,"p":-12.43},{"d":2.93,"p":-12.75},{"d":3.0,"p":-12.36},{"d":3.05,"p":-12.4},{"d":2.87,"p":-12.25},{"d":2.83,"p":-12.26},{"d":2.97,"p":-12.12},{"d":2.95,"p":-12.08},{"d":2.52,"p":-12.13},{"d":2.61,"p":-12.16},{"d":2.67,"p":-12.14},{"d":3.16,"p":-12.1},{"d":3.35,"p":-12.15},{"d":3.35,"p":-12.28},{"d":3.36,"p":-12.25},{"d":3.44,"p":-12.51},{"d":3.6,"p":-12.28},{"d":3.72,"p":-12.17},{"d":3.75,"p":-12.11},{"d":3.9,"p":-12.13},{"d":3.92,"p":-12.27},{"d":1.72,"p":-12.07},{"d":1.94,"p":-12.0},
{"d":4.35,"p":-12.15},{"d":4.45,"p":-12.07},{"d":4.6,"p":-12.08},{"d":4.59,"p":-12.4},{"d":4.81,"p":-12.45},{"d":4.81,"p":-12.53},{"d":4.8,"p":-12.19},{"d":4.94,"p":-12.21},{"d":5.14,"p":-12.67},{"d":5.41,"p":-12.05},{"d":5.66,"p":-12.13},{"d":5.69,"p":-12.06},{"d":5.79,"p":-12.06},{"d":5.76,"p":-12.27},{"d":5.75,"p":-12.31},{"d":5.84,"p":-12.37},{"d":5.81,"p":-12.47},{"d":6.27,"p":-12.91},{"d":6.54,"p":-12.39},{"d":6.52,"p":-12.13},{"d":6.61,"p":-12.13},{"d":6.65,"p":-12.18},{"d":6.39,"p":-12.08},{"d":7.02,"p":-12.2},
{"d":7.04,"p":-12.04},{"d":7.05,"p":-12.21},{"d":7.13,"p":-12.08},{"d":7.43,"p":-12.2},{"d":7.45,"p":-12.23},{"d":7.58,"p":-12.37},{"d":7.71,"p":-12.42},{"d":7.46,"p":-12.48},{"d":7.76,"p":-12.32},{"d":7.77,"p":-12.64},{"d":7.98,"p":-12.21},{"d":8.06,"p":-12.17},{"d":8.07,"p":-12.28},{"d":8.1,"p":-12.34},{"d":8.1,"p":-12.6},{"d":8.07,"p":-12.71},{"d":8.2,"p":-12.08},{"d":8.36,"p":-12.12},{"d":8.33,"p":-12.19},{"d":8.46,"p":-12.2},{"d":8.55,"p":-12.22},{"d":8.34,"p":-13.01},{"d":8.64,"p":-12.43},{"d":8.79,"p":-12.35},{"d":8.71,"p":-12.52},{"d":8.82,"p":-12.5},{"d":8.95,"p":-12.18},{"d":9.01,"p":-12.17},{"d":9.05,"p":-12.05},{"d":9.44,"p":-12.08},{"d":9.42,"p":-12.3},{"d":9.45,"p":-12.32},{"d":9.5,"p":-12.34},{"d":9.51,"p":-12.45},{"d":9.57,"p":-12.2},{"d":9.8,"p":-11.98},
{"d":9.93,"p":-12.02},{"d":10.09,"p":-12.0},{"d":10.0,"p":-12.23},{"d":10.05,"p":-12.42},{"d":9.99,"p":-12.51},{"d":10.4,"p":-12.38},{"d":10.54,"p":-12.19},{"d":10.62,"p":-12.17},{"d":10.67,"p":-12.19},{"d":10.64,"p":-12.1},{"d":10.88,"p":-12.26},{"d":11.0,"p":-12.06},{"d":11.01,"p":-12.1},{"d":11.04,"p":-12.19},{"d":11.07,"p":-12.34},{"d":10.92,"p":-12.53},{"d":11.02,"p":-12.54},{"d":11.08,"p":-12.6},{"d":11.04,"p":-12.74},{"d":11.29,"p":-12.97},{"d":11.2,"p":-13.13},{"d":11.33,"p":-12.2},{"d":11.59,"p":-12.09},{"d":11.57,"p":-12.42},{"d":11.84,"p":-12.39},{"d":12.02,"p":-12.07},{"d":12.1,"p":-12.15},{"d":12.12,"p":-12.11},{"d":12.34,"p":-12.23},{"d":12.21,"p":-12.48},{"d":12.4,"p":-12.46},{"d":12.5,"p":-12.34},{"d":12.59,"p":-12.22},
{"d":12.7,"p":-12.47},{"d":12.76,"p":-12.36},{"d":13.08,"p":-12.36},{"d":12.83,"p":-12.26},{"d":12.99,"p":-12.27},{"d":13.36,"p":-12.31},{"d":13.75,"p":-12.14},{"d":13.62,"p":-12.22},{"d":13.63,"p":-12.16},{"d":14.51,"p":-12.22},{"d":14.79,"p":-11.95},{"d":15.4,"p":-12.18},{"d":13.33,"p":-13.1},{"d":13.06,"p":-12.99}
]},
"layer":[
{"data":{"name":"bands"},"mark":{"type":"rect","fill":"#80c5f7","opacity":0.6},
 "encoding":{"x":{"field":"a","type":"quantitative"},"x2":{"field":"b"},"y":{"datum":-10.038},"y2":{"datum":-13.43}}},
{"data":{"name":"edges"},"mark":{"type":"rule","stroke":"#0a8cf5","strokeWidth":3},
 "encoding":{"x":{"field":"e","type":"quantitative"},"y":{"datum":-10.077},"y2":{"datum":-13.43}}},
{"data":{"name":"axisline"},"mark":{"type":"rule","stroke":"#000000","strokeWidth":2},
 "encoding":{"x":{"field":"a","type":"quantitative"},"x2":{"field":"b"},"y":{"datum":-13.43}}},
{"data":{"name":"pts"},"mark":{"type":"point","shape":"square","filled":true,"size":32,"fill":"#00e400","stroke":"#1d4f1d","strokeWidth":1,"opacity":1},
 "encoding":{
  "x":{"field":"d","type":"quantitative","scale":{"domain":[1.54,15.42],"nice":false,"zero":false},
   "axis":{"title":"Day in January 2014 (00:00 local marked)","values":[2,3,4,5,6,7,8,9,10,11,12,13,14],"format":"d","grid":false,"domain":false,"offset":-9,"ticks":true,"tickSize":9,"tickColor":"#000000","tickWidth":1.5,"labelPadding":15,"labelFontSize":25,"labelColor":"#000000","labelFont":"DejaVu Sans","titleFont":"DejaVu Sans","titleFontSize":27,"titleFontWeight":"normal","titleColor":"#000000","titleX":354.5,"titleY":92,"titleAlign":"center","titleBaseline":"alphabetic","labelFlush":false,"labelOverlap":false}},
  "y":{"field":"p","type":"quantitative","scale":{"domain":[-13.43,-9.9],"nice":false,"zero":false},
   "axis":{"title":"Log (Power of arrival)","values":[-10,-11,-12,-13],"format":"d","grid":true,"gridColor":"#999999","gridWidth":1,"domain":false,"ticks":false,"tickSize":0,"labelPadding":12,"labelFontSize":18,"labelColor":"#000000","labelFont":"DejaVu Sans","titleFont":"DejaVu Sans","titleFontSize":27,"titleFontWeight":"normal","titleColor":"#000000","titleX":-83,"titleY":149,"titleAlign":"center","titleBaseline":"alphabetic","titleAngle":-90,"labelOverlap":false}}
 }},
{"data":{"name":"ring"},"mark":{"type":"point","shape":"circle","filled":false,"size":990,"stroke":"#e8261b","strokeWidth":10.5,"opacity":1},
 "encoding":{"x":{"field":"d","type":"quantitative"},"y":{"field":"p","type":"quantitative"}}}
]
}
